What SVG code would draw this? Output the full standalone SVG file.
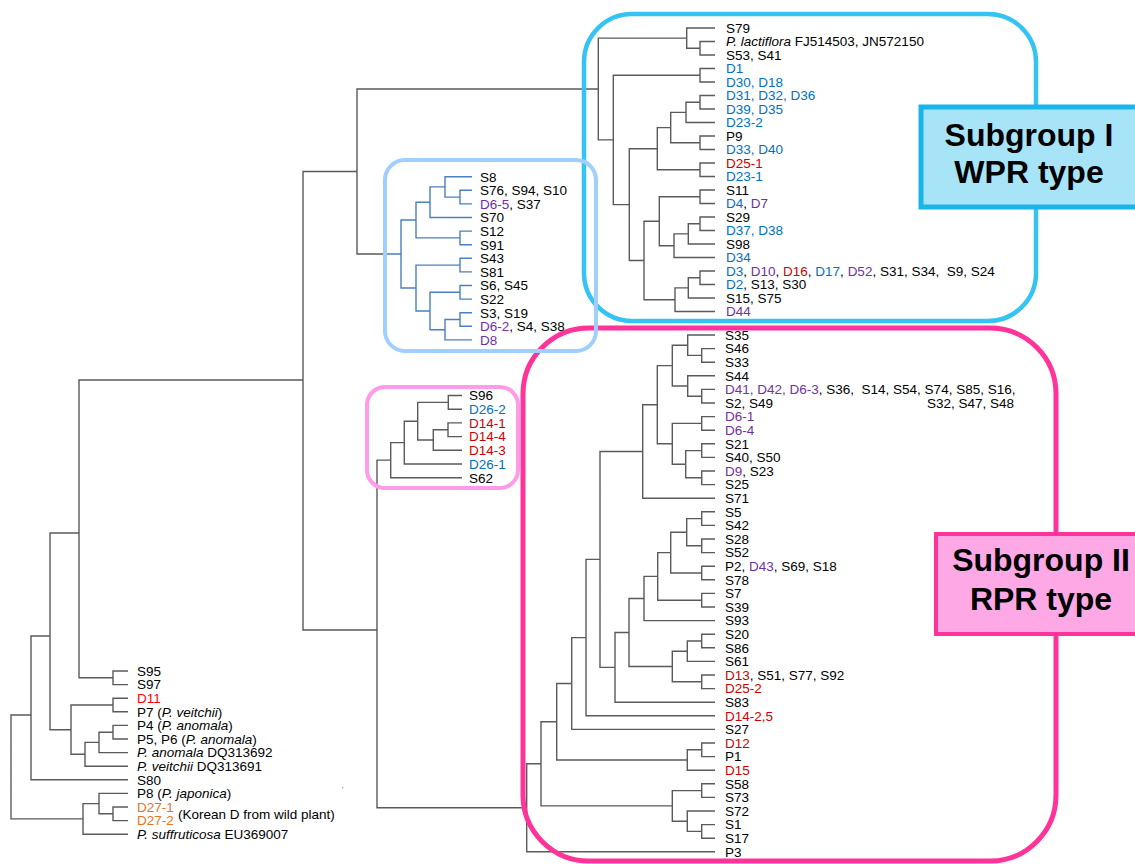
<svg xmlns="http://www.w3.org/2000/svg" width="1135" height="864" viewBox="0 0 1135 864">
<style>
.ln{fill:none;stroke:#5a5a5a;stroke-width:1.4}
.lb{fill:none;stroke:#4a7fc0;stroke-width:1.4}
text{font-family:"Liberation Sans",Arial,sans-serif;font-size:13.5px;fill:#000}
.b{fill:#0070c0}.r{fill:#cc0000}.rr{fill:#ff0000}.p{fill:#7030a0}.o{fill:#e8741c}.i{font-style:italic}
.big{font-size:32px;font-weight:bold;text-anchor:middle}
</style>
<rect width="1135" height="864" fill="#fff"/>
<g id="connectors">
<!-- Subgroup I -->
<path class="ln" d="M715 41.5H700V55H715M715 28H686.7V48.25H700M715 68.5H700V82H715M715 95.5H700V109H715M700 102.25H686V122.5H715M715 136H700V149.5H715M686 112.4H670.7V142.75H700M715 163H700V176.5H715M670.7 127.6H657.3V169.75H700M715 190H700V203.5H715M715 217H700V230.5H715M700 223.75H688.3V244H715M688.3 233.9H674V257.5H715M700 196.75H659.3V245.7H674M715 271H700V284.5H715M700 277.75H688.3V298H715M688.3 287.9H675V311.5H715M659.3 221.2H644V299.7H675M657.3 148.7H629.3V260.5H644M700 75.25H613.3V204.6H629.3M686.7 38.1H598.3V139.9H613.3"/>
<path class="ln" d="M598.3 89H357V254H386M357 171.5H303V630H377M303 380H79V677.8H113"/>
<!-- blue clade -->
<path class="lb" d="M386 254H401M472 190.3H460V203.9H472M472 176.7H445V197.1H460M445 186.9H430V217.5H472M472 231.1H460V244.7H472M430 202.2H416V237.9H460M472 258.3H460V271.9H472M472 285.5H460V299.1H472M472 312.7H460V326.3H472M460 319.5H445V339.9H472M460 292.3H430V329.7H445M460 265.1H416V311H430M416 220H401V288H416"/>
<!-- pink small clade -->
<path class="ln" d="M462 395.5H448.3V409.2H462M462 422.9H448V436.6H462M448 429.8H433.3V450.3H462M448.3 402.4H417.7V440H433.3M417.7 421.2H404.3V464H462M404.3 442.6H390.7V477.7H462M390.7 460.1H377V807.8H526.7"/>
<!-- Subgroup II -->
<path class="ln" d="M715 348.6H701.7V362.2H715M715 335H687.7V355.4H701.7M715 389.4H701.7V403H715M715 375.8H687.7V396.2H701.7M687.7 345.2H672.3V386H687.7M715 416.6H701.7V430.2H715M715 443.8H701.7V457.4H715M715 471H701.7V484.6H715M701.7 450.6H685.7V477.8H701.7M701.7 423.4H672.3V464.2H685.7M672.3 365.6H657.3V443.8H672.3M657.3 404.7H642.7V498.2H715M715 511.8H701.7V525.4H715M715 539H701.7V552.6H715M701.7 518.6H686.7V545.8H701.7M715 566.2H701.7V579.8H715M686.7 532.2H670.7V573H701.7M715 593.4H701.7V607H715M670.7 552.6H657.7V600.2H701.7M657.7 576.4H644V620.6H715M715 634.2H701.7V647.8H715M701.7 641H687.3V661.4H715M715 675H701.7V688.6H715M687.3 651.2H672.3V681.8H701.7M644 598.5H629V666.5H672.3M629 632.5H615V702.2H715M642.7 451.5H600V667.4H615M600 559.4H586V715.8H715M586 637.6H571.7V729.4H715M715 743H701.7V756.6H715M701.7 749.8H687.3V770.2H715M571.7 683.5H556.7V760H687.3M715 783.8H701.7V797.4H715M715 824.6H701.7V838.2H715M715 811H687.3V831.4H701.7M701.7 790.6H672.3V821.2H687.3M556.7 721.7H541V805.9H672.3M541 763.8H526.7V851.8H715"/>
<!-- outgroups -->
<path class="ln" d="M128 671H113V684.6H128M79 533H50V729.7H71M113 705H71V754.3H85M128 698.2H113V711.8H128M99 742.4H85V766.2H128M113 732.2H99V752.6H128M128 725.4H113V739H128M50 636H31V779.8H128M31 715H11V818.9H83M99 803.6H83V834.2H128M128 793.4H99V813.8H113M128 807H113V820.6H128"/>
</g>
<rect x="342" y="787" width="1.2" height="1.2" fill="#999"/>
<g id="frames">
<rect id="frame-subgroup1" x="584" y="14" width="452" height="307" rx="48" fill="none" stroke="#35c3f3" stroke-width="4.5"/>
<rect id="frame-subgroup2" x="523" y="328" width="533" height="533" rx="66" fill="none" stroke="#ff3399" stroke-width="5"/>
<rect id="frame-blue" x="385" y="160" width="211" height="191" rx="20" fill="none" stroke="#9fcfff" stroke-width="4"/>
<rect id="frame-pink" x="367" y="387" width="151" height="101" rx="18" fill="none" stroke="#ff9be9" stroke-width="4"/>
</g>
<g id="label-subgroup1">
<rect x="921" y="107" width="230" height="100" fill="#a8e4f8" stroke="#19b4e8" stroke-width="5"/>
<text class="big" x="1029" y="146">Subgroup I</text>
<text class="big" x="1029" y="183">WPR type</text>
</g>
<g id="label-subgroup2">
<rect x="936" y="534" width="220" height="100" fill="#ffa8e6" stroke="#ff3399" stroke-width="4"/>
<text class="big" x="1041" y="571">Subgroup II</text>
<text class="big" x="1041" y="610">RPR type</text>
</g>
<g id="leaves-subgroup1">
<text id="l-S79" x="726" y="32.8">S79</text>
<text id="l-Plac" x="726" y="46.3"><tspan class="i">P. lactiflora</tspan> FJ514503, JN572150</text>
<text id="l-S53" x="726" y="59.8">S53, S41</text>
<text id="l-D1" class="b" x="726" y="73.3">D1</text>
<text id="l-D30" class="b" x="726" y="86.8">D30, D18</text>
<text id="l-D31" class="b" x="726" y="100.3">D31, D32, D36</text>
<text id="l-D39" class="b" x="726" y="113.8">D39, D35</text>
<text id="l-D23-2" class="b" x="726" y="127.3">D23-2</text>
<text id="l-P9" x="726" y="140.8">P9</text>
<text id="l-D33" class="b" x="726" y="154.3">D33, D40</text>
<text id="l-D25-1" class="r" x="726" y="167.8">D25-1</text>
<text id="l-D23-1" class="b" x="726" y="181.3">D23-1</text>
<text id="l-S11" x="726" y="194.8">S11</text>
<text id="l-D4" x="726" y="208.3"><tspan class="b">D4</tspan>, <tspan class="p">D7</tspan></text>
<text id="l-S29" x="726" y="221.8">S29</text>
<text id="l-D37" class="b" x="726" y="235.3">D37, D38</text>
<text id="l-S98" x="726" y="248.8">S98</text>
<text id="l-D34" class="b" x="726" y="262.3">D34</text>
<text id="l-D3" x="726" y="275.8" xml:space="preserve"><tspan class="b">D3</tspan>, <tspan class="p">D10</tspan>, <tspan class="r">D16</tspan>, <tspan class="b">D17</tspan>, <tspan class="p">D52</tspan>, S31, S34,  S9, S24</text>
<text id="l-D2" x="726" y="289.3"><tspan class="b">D2</tspan>, S13, S30</text>
<text id="l-S15" x="726" y="302.8">S15, S75</text>
<text id="l-D44" class="p" x="726" y="316.3">D44</text>
</g>
<g id="leaves-blue">
<text id="l-S8" x="480" y="181.5">S8</text>
<text id="l-S76" x="480" y="195.1">S76, S94, S10</text>
<text id="l-D6-5" x="480" y="208.7"><tspan class="p">D6-5</tspan>, S37</text>
<text id="l-S70" x="480" y="222.3">S70</text>
<text id="l-S12" x="480" y="235.9">S12</text>
<text id="l-S91" x="480" y="249.5">S91</text>
<text id="l-S43" x="480" y="263.1">S43</text>
<text id="l-S81" x="480" y="276.7">S81</text>
<text id="l-S6" x="480" y="290.3">S6, S45</text>
<text id="l-S22" x="480" y="303.9">S22</text>
<text id="l-S3" x="480" y="317.5">S3, S19</text>
<text id="l-D6-2" x="480" y="331.1"><tspan class="p">D6-2</tspan>, S4, S38</text>
<text id="l-D8" class="p" x="480" y="344.7">D8</text>
</g>
<g id="leaves-pink">
<text id="l-S96" x="469" y="400.3">S96</text>
<text id="l-D26-2" class="b" x="469" y="414">D26-2</text>
<text id="l-D14-1" class="r" x="469" y="427.7">D14-1</text>
<text id="l-D14-4" class="r" x="469" y="441.4">D14-4</text>
<text id="l-D14-3" class="r" x="469" y="455.1">D14-3</text>
<text id="l-D26-1" class="b" x="469" y="468.8">D26-1</text>
<text id="l-S62" x="469" y="482.5">S62</text>
</g>
<g id="leaves-subgroup2">
<text id="l-S35" x="725" y="339.8">S35</text>
<text id="l-S46" x="725" y="353.4">S46</text>
<text id="l-S33" x="725" y="367">S33</text>
<text id="l-S44" x="725" y="380.6">S44</text>
<text id="l-D41" x="725" y="394.2" xml:space="preserve"><tspan class="p">D41, D42, D6-3</tspan>, S36,  S14, S54, S74, S85, S16,</text>
<text id="l-S2" x="725" y="407.8">S2, S49</text>
<text id="l-S32" x="927" y="407.8">S32, S47, S48</text>
<text id="l-D6-1" class="p" x="725" y="421.4">D6-1</text>
<text id="l-D6-4" class="p" x="725" y="435">D6-4</text>
<text id="l-S21" x="725" y="448.6">S21</text>
<text id="l-S40" x="725" y="462.2">S40, S50</text>
<text id="l-D9" x="725" y="475.8"><tspan class="p">D9</tspan>, S23</text>
<text id="l-S25" x="725" y="489.4">S25</text>
<text id="l-S71" x="725" y="503">S71</text>
<text id="l-S5" x="725" y="516.6">S5</text>
<text id="l-S42" x="725" y="530.2">S42</text>
<text id="l-S28" x="725" y="543.8">S28</text>
<text id="l-S52" x="725" y="557.4">S52</text>
<text id="l-P2" x="725" y="571">P2, <tspan class="p">D43</tspan>, S69, S18</text>
<text id="l-S78" x="725" y="584.6">S78</text>
<text id="l-S7" x="725" y="598.2">S7</text>
<text id="l-S39" x="725" y="611.8">S39</text>
<text id="l-S93" x="725" y="625.4">S93</text>
<text id="l-S20" x="725" y="639">S20</text>
<text id="l-S86" x="725" y="652.6">S86</text>
<text id="l-S61" x="725" y="666.2">S61</text>
<text id="l-D13" x="725" y="679.8"><tspan class="r">D13</tspan>, S51, S77, S92</text>
<text id="l-D25-2" class="r" x="725" y="693.4">D25-2</text>
<text id="l-S83" x="725" y="707">S83</text>
<text id="l-D14-25" class="r" x="725" y="720.6">D14-2,5</text>
<text id="l-S27" x="725" y="734.2">S27</text>
<text id="l-D12" class="r" x="725" y="747.8">D12</text>
<text id="l-P1" x="725" y="761.4">P1</text>
<text id="l-D15" class="r" x="725" y="775">D15</text>
<text id="l-S58" x="725" y="788.6">S58</text>
<text id="l-S73" x="725" y="802.2">S73</text>
<text id="l-S72" x="725" y="815.8">S72</text>
<text id="l-S1" x="725" y="829.4">S1</text>
<text id="l-S17" x="725" y="843">S17</text>
<text id="l-P3" x="725" y="856.6">P3</text>
</g>
<g id="leaves-outgroup">
<text id="l-S95" x="137" y="675.8">S95</text>
<text id="l-S97" x="137" y="689.4">S97</text>
<text id="l-D11" class="rr" x="137" y="703">D11</text>
<text id="l-P7" x="137" y="716.6">P7 (<tspan class="i">P. veitchii</tspan>)</text>
<text id="l-P4" x="137" y="730.2">P4 (<tspan class="i">P. anomala</tspan>)</text>
<text id="l-P5" x="137" y="743.8">P5, P6 (<tspan class="i">P. anomala</tspan>)</text>
<text id="l-Panom" x="137" y="757.4"><tspan class="i">P. anomala</tspan> DQ313692</text>
<text id="l-Pveit" x="137" y="771"><tspan class="i">P. veitchii</tspan> DQ313691</text>
<text id="l-S80" x="137" y="784.6">S80</text>
<text id="l-P8" x="137" y="798.2">P8 (<tspan class="i">P. japonica</tspan>)</text>
<text id="l-D27-1" class="o" x="137" y="811.8">D27-1</text>
<text id="l-D27-2" class="o" x="137" y="825.4">D27-2</text>
<text id="l-korean" x="178" y="818.6">(Korean D from wild plant)</text>
<text id="l-Psuff" x="137" y="839"><tspan class="i">P. suffruticosa</tspan> EU369007</text>
</g>
</svg>
